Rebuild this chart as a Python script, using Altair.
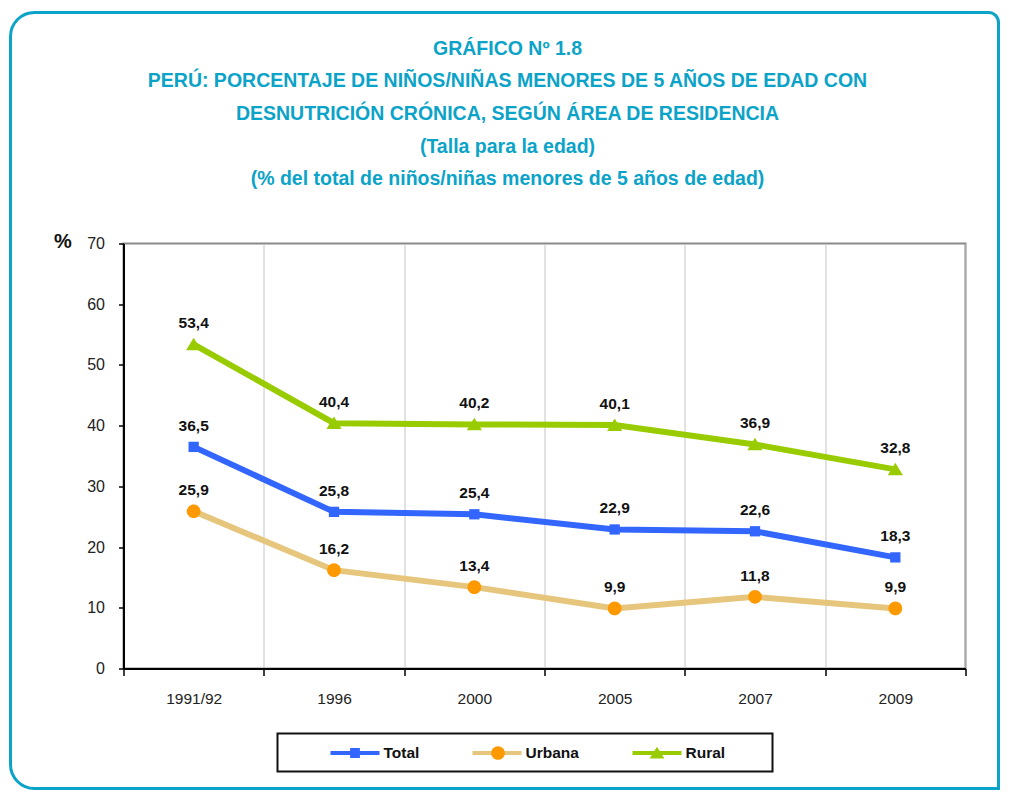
import altair as alt
import pandas as pd

years = ["1991/92", "1996", "2000", "2005", "2007", "2009"]
series = ["Total", "Urbana", "Rural"]
total = [36.5, 25.8, 25.4, 22.9, 22.6, 18.3]
urbana = [25.9, 16.2, 13.4, 9.9, 11.8, 9.9]
rural = [53.4, 40.4, 40.2, 40.1, 36.9, 32.8]
y_ticks = [0, 10, 20, 30, 40, 50, 60, 70]
title_lines = [
    "GRÁFICO Nº 1.8",
    "PERÚ: PORCENTAJE DE NIÑOS/NIÑAS MENORES DE 5 AÑOS DE EDAD CON",
    "DESNUTRICIÓN CRÓNICA, SEGÚN ÁREA DE RESIDENCIA",
    "(Talla para la edad)",
    "(% del total de niños/niñas menores de 5 años de edad)",
]
line_colors = ["#3366ff", "#e6c67c", "#99cc00"]
marker_colors = ["#3366ff", "#ff9900", "#99cc00"]
# marker glyphs (unit box -1..1), drawn at a large symbol size so they stay small
marker_paths = [
    "M-0.21,-0.21H0.21V0.21H-0.21Z",
    "M0.28,0A0.28,0.28 0 1,1 -0.28,0A0.28,0.28 0 1,1 0.28,0Z",
    "M0,-0.27L0.31,0.24H-0.31Z",
]
# legend glyphs: a line segment with the marker on it
LINE = "M-1,-0.08H1V0.08H-1Z"
legend_paths = [
    LINE + "M-0.2,-0.2H0.2V0.2H-0.2Z",
    LINE,
    LINE + "M0,-0.26L0.3,0.22H-0.3Z",
]
TEAL = "#0ba3c8"
FONT = "Liberation Sans"

rows = []
for s, vals in zip(series, [total, urbana, rural]):
    for yr, v in zip(years, vals):
        rows.append({"year": yr, "serie": s, "serie_m": s, "serie_u": s, "value": v,
                     "label": f"{v:.1f}".replace(".", ",")})
df = pd.DataFrame(rows)

SYM = 2401
common = dict(
    orient="none", legendY=485, direction="horizontal",
    title=None, symbolSize=SYM, symbolStrokeWidth=0, symbolOpacity=1,
    columnPadding=53, labelOffset=4, padding=0,
    labelFont=FONT, labelFontSize=15.5, labelFontWeight="bold", labelColor="#111",
)
legend_main = alt.Legend(legendX=207, columns=3, zindex=1, **common)
# second legend: the orange Urbana marker laid over the tan legend line
legend_marker = alt.Legend(legendX=350, columns=1, zindex=2, labelExpr="''", **common)

x_enc = alt.X(
    "year:O", sort=years, bandPosition=0.5,
    scale=alt.Scale(type="band", paddingInner=0, paddingOuter=0),
    axis=alt.Axis(
        title=None, tickBand="extent", grid=True, gridColor="#c4c4c4", gridWidth=1,
        domainColor="#000", domainWidth=2, tickColor="#000", tickWidth=1.5, tickSize=7,
        labelPadding=16, labelFont=FONT, labelFontSize=15.5, labelColor="#222", labelAngle=0,
    ),
)
y_enc = alt.Y(
    "value:Q",
    scale=alt.Scale(domain=[0, 70], nice=False, zero=True),
    axis=alt.Axis(
        values=y_ticks, grid=False, title="%", titleAngle=0, titleX=-61, titleY=-2,
        titleAlign="center", titleBaseline="middle", titleFont=FONT, titleFontSize=20,
        titleFontWeight="bold", titleColor="#111",
        domainColor="#000", domainWidth=2, tickColor="#000", tickWidth=1.5, tickSize=5,
        labelPadding=14, labelFont=FONT, labelFontSize=16, labelColor="#222",
    ),
)

base = alt.Chart(df)

lines = base.mark_line(strokeWidth=6).encode(
    x=x_enc, y=y_enc,
    color=alt.Color("serie:N", scale=alt.Scale(domain=series, range=line_colors), legend=None),
    detail="serie:N",
)

points = base.mark_point(filled=True, size=SYM, opacity=1).encode(
    x=x_enc, y=y_enc,
    fill=alt.Fill("serie:N", scale=alt.Scale(domain=series, range=marker_colors), legend=None),
    shape=alt.Shape("serie:N", scale=alt.Scale(domain=series, range=marker_paths), legend=None),
)

# legend-only layers (no rows drawn)
legend_layer = base.transform_filter("datum.value < 0").mark_point(
    filled=True, size=SYM, opacity=1
).encode(
    x=x_enc, y=y_enc,
    fill=alt.Fill("serie_m:N", scale=alt.Scale(domain=series, range=line_colors), legend=legend_main),
    shape=alt.Shape("serie_m:N", scale=alt.Scale(domain=series, range=legend_paths), legend=legend_main),
)
legend_layer2 = base.transform_filter("datum.value < 0").mark_point(
    filled=True, size=SYM, opacity=1
).encode(
    x=x_enc, y=y_enc,
    fill=alt.Fill("serie_u:N", scale=alt.Scale(domain=[series[1]], range=[marker_colors[1]]),
                  legend=legend_marker),
    shape=alt.Shape("serie_u:N", scale=alt.Scale(domain=[series[1]], range=[marker_paths[1]]),
                    legend=legend_marker),
)

labels = base.mark_text(dy=-21, font=FONT, fontSize=15.5, fontWeight="bold", color="#111").encode(
    x=x_enc, y=y_enc, text="label:N",
)

one = alt.Chart(pd.DataFrame({"k": [0]}))
legend_box = one.mark_rect(fillOpacity=0, stroke="#111", strokeWidth=2).encode(
    x=alt.value(154), x2=alt.value(649), y=alt.value(490), y2=alt.value(528)
)
frame = one.mark_rect(fillOpacity=0, stroke=TEAL, strokeWidth=3,
                      cornerRadiusTopLeft=24, cornerRadiusBottomLeft=24,
                      cornerRadiusTopRight=10).encode(
    x=alt.value(-113), x2=alt.value(875), y=alt.value(-231), y2=alt.value(545)
)

chart = alt.layer(frame, legend_box, lines, points, legend_layer, legend_layer2, labels).properties(
    width=842, height=425,
    padding={"left": 0.5, "top": 2.5, "right": 0, "bottom": 0},
    title=alt.TitleParams(
        text=title_lines, font=FONT, fontSize=19.5, fontWeight="bold", color=TEAL,
        lineHeight=32.7, anchor="middle", frame="group", dx=-37, dy=179, offset=0,
    ),
).resolve_scale(
    fill="independent", shape="independent"
).configure_view(stroke="#8a8a8a", strokeWidth=2)

chart.save("out.html", embed_options={"renderer": "svg", "actions": False})
